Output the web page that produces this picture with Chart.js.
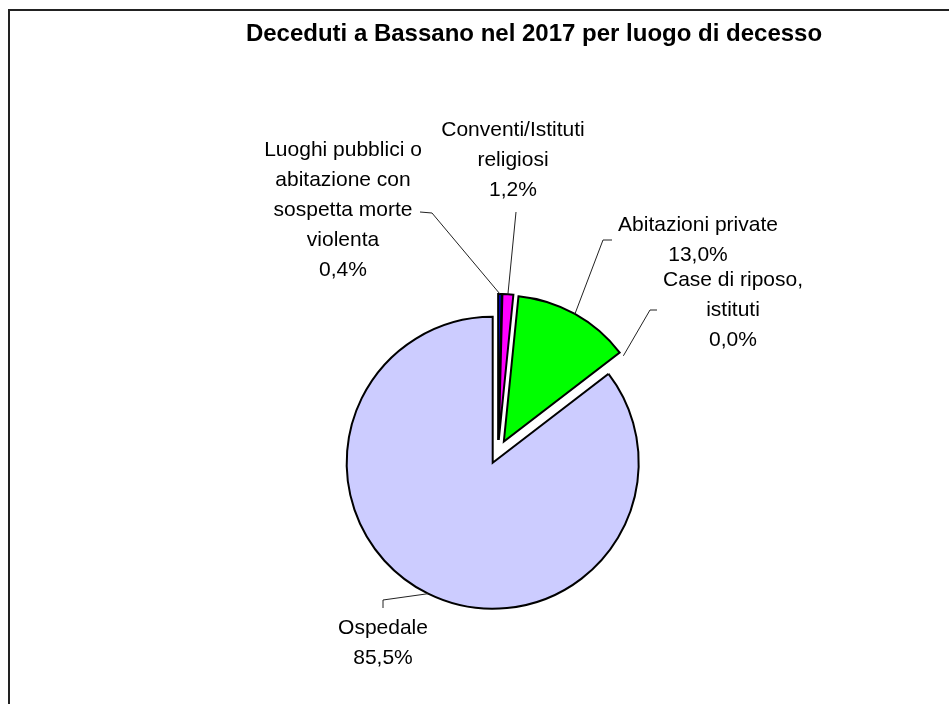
<!DOCTYPE html>
<html>
<head>
<meta charset="utf-8">
<script src="https://cdn.jsdelivr.net/npm/chart.js@4.4.0/dist/chart.umd.min.js"></script>
<style>
  html, body { margin: 0; padding: 0; background: #fff; }
  canvas { display: block; }
</style>
</head>
<body>
<canvas id="torta" width="949" height="704"></canvas>
<script>
// dati: percentuali dei deceduti per luogo di decesso
const categorie = [
    ['Luoghi pubblici o', 'abitazione con', 'sospetta morte', 'violenta'],
    ['Conventi/Istituti', 'religiosi'],
    ['Abitazioni private'],
    ['Case di riposo,', 'istituti'],
    ['Ospedale']
];
const percentuali = [0.4, 1.2, 13.0, 0.0, 85.5];
const colori = ['#0000CC', '#FF00FF', '#00FF00', '#00FFFF', '#CCCCFF'];
const titolo = 'Deceduti a Bassano nel 2017 per luogo di decesso';

// distacco delle fette e raggio (pixel)
const distacco = 12;
const raggio = 146;

// posizione delle etichette rispetto al centro della torta
const posEtichette = [
    { testo: [-155, -242], inizio: [-78, -240], gomito: [-66, -239] },
    { testo: [15, -292],   inizio: [18, -240],  gomito: [18, -240] },
    { testo: [200, -212],  inizio: [114, -212], gomito: [105, -212] },
    { testo: [235, -142],  inizio: [159, -142], gomito: [152, -142] },
    { testo: [-115, 191],  inizio: [-115, 156], gomito: [-115, 148] }
];

function formatPerc(v) {
    return v.toFixed(1).replace('.', ',') + '%';
}

function centro(chart) {
    const a = chart.chartArea;
    return { x: (a.left + a.right) / 2, y: (a.top + a.bottom) / 2 };
}

// plugin per fette staccate, cornice, titolo ed etichette con linee guida
const etichettePlugin = {
    id: 'etichette',
    afterDatasetUpdate(chart) {
        // sposto ogni fetta lungo la sua bisettrice (torta esplosa)
        const c = centro(chart);
        chart.getDatasetMeta(0).data.forEach((arc) => {
            const mid = (arc.startAngle + arc.endAngle) / 2;
            arc.x = c.x + Math.cos(mid) * distacco;
            arc.y = c.y + Math.sin(mid) * distacco;
        });
    },
    beforeDraw(chart) {
        const ctx = chart.ctx;
        ctx.save();
        ctx.fillStyle = '#fff';
        ctx.fillRect(0, 0, chart.width, chart.height);
        ctx.strokeStyle = '#222';
        ctx.lineWidth = 2;
        ctx.beginPath();
        ctx.moveTo(9, chart.height);
        ctx.lineTo(9, 10);
        ctx.lineTo(chart.width, 10);
        ctx.stroke();

        ctx.fillStyle = '#000';
        ctx.font = 'bold 24px "Liberation Sans", Arial, sans-serif';
        ctx.textAlign = 'center';
        ctx.textBaseline = 'middle';
        ctx.fillText(titolo, 534, 34);
        ctx.restore();
    },
    afterDatasetsDraw(chart) {
        const ctx = chart.ctx;
        const c = centro(chart);
        ctx.save();
        chart.getDatasetMeta(0).data.forEach((arc, i) => {
            const mid = (arc.startAngle + arc.endAngle) / 2;
            const px = arc.x + Math.cos(mid) * raggio;
            const py = arc.y + Math.sin(mid) * raggio;
            const pos = posEtichette[i];

            ctx.strokeStyle = '#222';
            ctx.lineWidth = 1;
            ctx.beginPath();
            ctx.moveTo(c.x + pos.inizio[0], c.y + pos.inizio[1]);
            ctx.lineTo(c.x + pos.gomito[0], c.y + pos.gomito[1]);
            ctx.lineTo(px, py);
            ctx.stroke();

            const righe = categorie[i].concat([formatPerc(percentuali[i])]);
            const interlinea = 30;
            const tx = c.x + pos.testo[0];
            const ty = c.y + pos.testo[1] - (righe.length - 1) * interlinea / 2;
            ctx.fillStyle = '#000';
            ctx.font = '21px "Liberation Sans", Arial, sans-serif';
            ctx.textAlign = 'center';
            ctx.textBaseline = 'middle';
            righe.forEach((r, k) => ctx.fillText(r, tx, ty + k * interlinea));
        });
        ctx.restore();
    }
};

const ctx = document.getElementById('torta').getContext('2d');
new Chart(ctx, {
    type: 'pie',
    data: {
        labels: categorie,
        datasets: [{
            data: percentuali,
            backgroundColor: colori,
            borderColor: '#000',
            borderWidth: [2, 2, 2, 0, 2],
            borderJoinStyle: 'miter',
            offset: 0
        }]
    },
    options: {
        responsive: false,
        devicePixelRatio: 1,
        animation: false,
        events: [],
        radius: raggio,
        layout: {
            padding: { left: 60, right: 13, top: 240, bottom: 40 }
        },
        plugins: {
            legend: { display: false },
            title: { display: false },
            tooltip: { enabled: false }
        }
    },
    plugins: [etichettePlugin]
});
</script>
</body>
</html>
